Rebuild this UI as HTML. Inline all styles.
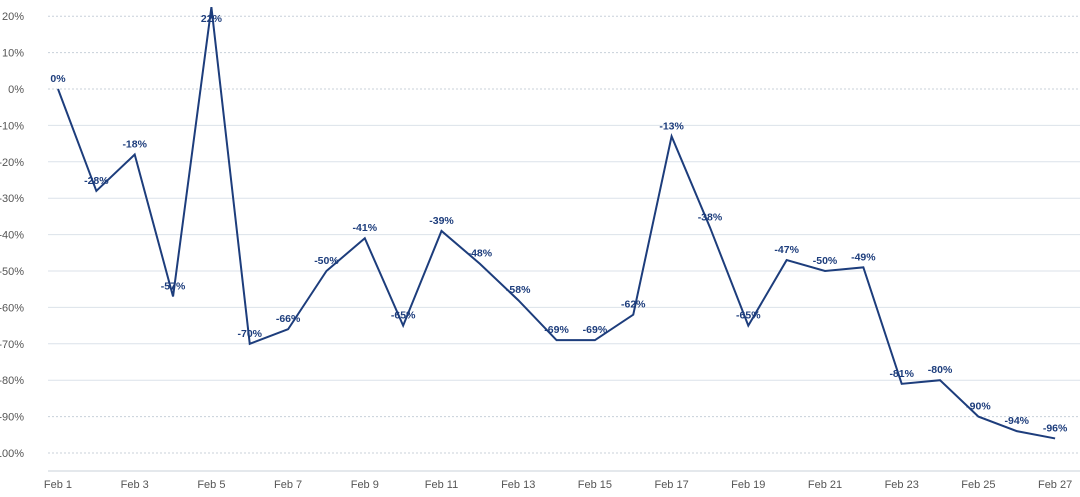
<!DOCTYPE html>
<html><head><meta charset="utf-8"><style>
html,body{margin:0;padding:0;background:#fff;}
svg{display:block;font-family:"Liberation Sans",sans-serif;}
</style></head><body>
<svg width="1080" height="497" viewBox="0 0 1080 497" xmlns="http://www.w3.org/2000/svg">
<g id="grid"></g>
<g id="yl" font-size="11" fill="#555" text-anchor="end"></g>
<g id="xl" font-size="11" fill="#555" text-anchor="middle"></g>
<polyline id="ln" fill="none" stroke="#1d3d7c" stroke-width="2" stroke-linejoin="miter"/>
<g id="dl" font-size="10.5" font-weight="bold" fill="#1d3d7c" text-anchor="middle"></g>
<script>
var ns="http://www.w3.org/2000/svg";
function el(t,a,p,txt){var e=document.createElementNS(ns,t);for(var k in a)e.setAttribute(k,a[k]);if(txt!=null)e.textContent=txt;document.getElementById(p).appendChild(e);return e;}
function Y(v){return 89-v*3.64;}
function X(d){return 58+(d-1)*38.35;}
for(var v=20;v>=-100;v-=10){
 var dot=(v>=0||v<=-90);
 el('line',{x1:48,x2:1080,y1:Y(v),y2:Y(v),stroke:dot?'#c8d0da':'#dbe2ea','stroke-width':1,'stroke-dasharray':dot?'2,2':''},'grid');
 el('text',{x:24,y:Y(v)+4},'yl',(v==-100?'-100':v)+'%');
}
el('line',{x1:48,x2:1080,y1:471,y2:471,stroke:'#c8d0da','stroke-width':1},'grid');
for(var d=1;d<=27;d+=2)el('text',{x:X(d),y:488},'xl','Feb '+d);
var data=[0,-28,-18,-57,22.5,-70,-66,-50,-41,-65,-39,-48,-58,-69,-69,-62,-13,-38,-65,-47,-50,-49,-81,-80,-90,-94,-96];
var lab=[0,-28,-18,-57,22,-70,-66,-50,-41,-65,-39,-48,-58,-69,-69,-62,-13,-38,-65,-47,-50,-49,-81,-80,-90,-94,-96];
var pts=[];
data.forEach(function(v,i){pts.push(X(i+1)+','+Y(v));
 var ly=Y(v)-7; if(i==4)ly=Y(v)+15;
 el('text',{x:X(i+1),y:ly},'dl',lab[i]+'%');});
document.getElementById('ln').setAttribute('points',pts.join(' '));
</script>
</svg>
</body></html>
